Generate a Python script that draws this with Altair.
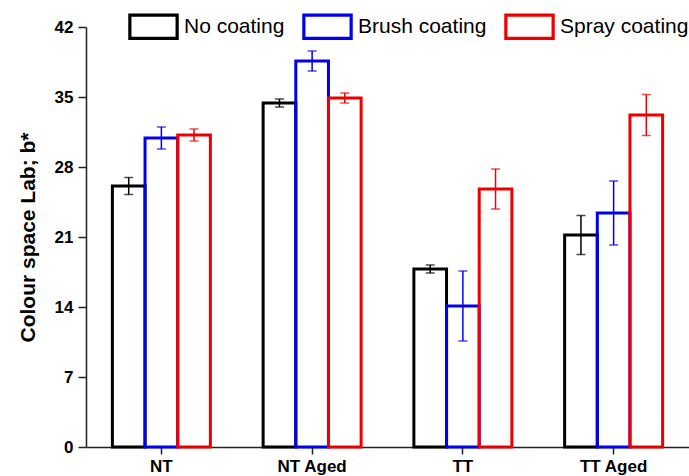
import altair as alt
import pandas as pd

categories = ["NT", "NT Aged", "TT", "TT Aged"]
coatings = ["No coating", "Brush coating", "Spray coating"]
colors = ["#000000", "#0000ee", "#ee0000"]

no_coating = [26.1, 34.4, 17.8, 21.2]
no_coating_err = [0.85, 0.4, 0.4, 1.95]
brush_coating = [30.9, 38.6, 14.1, 23.4]
brush_coating_err = [1.1, 1.0, 3.5, 3.2]
spray_coating = [31.2, 34.9, 25.8, 33.2]
spray_coating_err = [0.6, 0.5, 2.0, 2.05]

y_major = [0, 7, 14, 21, 28, 35, 42]
y_ticks = [0, 3.5, 7, 10.5, 14, 17.5, 21, 24.5, 28, 31.5, 35, 38.5, 42]

rows = []
for i, cat in enumerate(categories):
    for name, vals, errs in [
        ("No coating", no_coating, no_coating_err),
        ("Brush coating", brush_coating, brush_coating_err),
        ("Spray coating", spray_coating, spray_coating_err),
    ]:
        rows.append({"cat": cat, "coating": name, "value": vals[i],
                     "lo": vals[i] - errs[i], "hi": vals[i] + errs[i]})
df = pd.DataFrame(rows)

FONT = "Liberation Sans"

# hollow rectangle (outer clockwise, inner counter-clockwise -> hole)
HOLLOW_RECT = "M-1,-0.5H1V0.5H-1Z M-0.97,-0.47V0.47H0.97V-0.47Z"

x_enc = alt.X("cat:N", sort=categories, title=None,
              scale=alt.Scale(paddingInner=0.35, paddingOuter=0.175),
              axis=alt.Axis(labelAngle=0, labelFont=FONT, labelFontSize=17,
                            labelFontWeight="bold", labelColor="#000",
                            tickSize=7, tickWidth=1.5, tickColor="#222",
                            domainWidth=1.5, domainColor="#222",
                            labelPadding=4))
xoff = alt.XOffset("coating:N", sort=coatings)
y_scale = alt.Scale(domain=[0, 42], nice=False, zero=True)

base = alt.Chart(df)

bars = base.mark_bar(filled=False, strokeWidth=3, strokeJoin="miter").encode(
    x=x_enc,
    xOffset=xoff,
    y=alt.Y("value:Q", scale=y_scale, title="Colour space Lab; b*",
            axis=alt.Axis(values=y_ticks,
                          labelExpr="datum.value % 7 === 0 ? datum.label : ''",
                          tickSize={"condition": {"test": "datum.value % 7 === 0", "value": 8}, "value": 4},
                          tickWidth=1.5, tickColor="#222",
                          domainWidth=1.5, domainColor="#222",
                          labelFont=FONT, labelFontSize=17, labelFontWeight="bold",
                          labelColor="#000", labelPadding=5,
                          titleFont=FONT, titleFontSize=21, titleFontWeight="bold",
                          titleColor="#000", titlePadding=16, grid=False)),
    stroke=alt.Stroke("coating:N", sort=coatings,
                      scale=alt.Scale(domain=coatings, range=colors),
                      legend=alt.Legend(orient="none", legendX=42, legendY=-26,
                                        direction="horizontal", title=None,
                                        symbolType=HOLLOW_RECT,
                                        symbolSize=2304, symbolStrokeWidth=2.5,
                                        labelFont=FONT, labelFontSize=21,
                                        labelColor="#000", labelOffset=5,
                                        columnPadding=13)),
    order=alt.Order("coating_idx:Q"),
).transform_calculate(
    coating_idx="indexof(['No coating','Brush coating','Spray coating'], datum.coating)"
)

color_enc = alt.Color("coating:N", scale=alt.Scale(domain=coatings, range=colors), legend=None)

rules = base.mark_rule(strokeWidth=1.5).encode(
    x=x_enc, xOffset=xoff,
    y=alt.Y("lo:Q", scale=y_scale), y2="hi:Q",
    color=color_enc,
)
cap_lo = base.mark_tick(size=9, thickness=1.5, orient="horizontal").encode(
    x=x_enc, xOffset=xoff, y=alt.Y("lo:Q", scale=y_scale), color=color_enc)
cap_hi = base.mark_tick(size=9, thickness=1.5, orient="horizontal").encode(
    x=x_enc, xOffset=xoff, y=alt.Y("hi:Q", scale=y_scale), color=color_enc)

chart = alt.layer(bars, rules, cap_lo, cap_hi).properties(
    width=603, height=420,
    autosize=alt.AutoSizeParams(type="none"),
    padding={"left": 86, "top": 27, "right": 0, "bottom": 29},
    background="white",
).configure_view(stroke=None).configure_tick(bandSize=9)

chart.save("out.html", embed_options={"renderer": "svg", "actions": False})
